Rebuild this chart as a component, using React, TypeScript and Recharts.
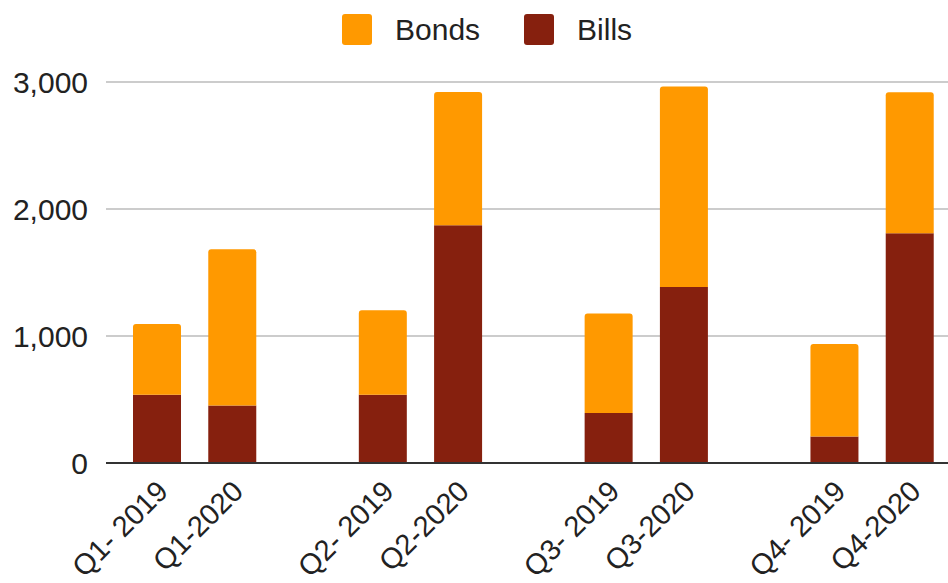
import { BarChart, Bar, XAxis, YAxis, CartesianGrid } from "recharts";

// categories, with blank slots between the quarter pairs
const categories = [
  "Q1- 2019",
  "Q1-2020",
  "",
  "Q2- 2019",
  "Q2-2020",
  "",
  "Q3- 2019",
  "Q3-2020",
  "",
  "Q4- 2019",
  "Q4-2020",
];
const bills = [537, 452, null, 537, 1872, null, 393, 1385, null, 209, 1809];
const bonds = [557, 1231, null, 665, 1050, null, 785, 1579, null, 728, 1110];
const yTicks = [0, 1000, 2000, 3000];

const BONDS_COLOR = "#ff9900";
const BILLS_COLOR = "#86200e";
const FONT = "Arial, 'Liberation Sans', sans-serif";

const data = categories.map((name, i) => ({
  name,
  bills: bills[i],
  bonds: bonds[i],
}));

function XTick({ x, y, payload }: any) {
  if (!payload.value) return null;
  return (
    <g transform={`translate(${x + 13},${y + 30})`}>
      <text
        x={0}
        y={0}
        textAnchor="end"
        transform="rotate(-45)"
        fontSize={29}
        fontFamily={FONT}
        fill="#222"
      >
        {payload.value}
      </text>
    </g>
  );
}

const legendItems = [
  { label: "Bonds", color: BONDS_COLOR },
  { label: "Bills", color: BILLS_COLOR },
];

export default function App() {
  return (
    <div style={{ position: "relative", width: 948, height: 583, background: "#fff", overflow: "hidden" }}>
      <style>{`body{margin:0}`}</style>
      <div
        style={{
          position: "absolute",
          top: 14,
          left: 342,
          display: "flex",
          alignItems: "center",
          fontFamily: FONT,
          fontSize: 30,
          color: "#222",
        }}
      >
        {legendItems.map((item, i) => (
          <div
            key={item.label}
            style={{ display: "flex", alignItems: "center", marginRight: i === 0 ? 44 : 0 }}
          >
            <span
              style={{
                width: 30,
                height: 31,
                borderRadius: 3,
                background: item.color,
                display: "inline-block",
                marginRight: 23,
              }}
            />
            <span style={{ lineHeight: "31px" }}>{item.label}</span>
          </div>
        ))}
      </div>
      <BarChart
        width={948}
        height={583}
        data={data}
        margin={{ top: 82, right: 0, bottom: 0, left: 0 }}
        barSize={48}
      >
        <CartesianGrid vertical={false} stroke="#cccccc" strokeWidth={2} />
        <XAxis
          dataKey="name"
          height={120}
          interval={0}
          tickLine={false}
          tickSize={0}
          tickMargin={0}
          padding={{ left: 13, right: 1 }}
          axisLine={{ stroke: "#333333", strokeWidth: 2 }}
          tick={<XTick />}
        />
        <YAxis
          width={106}
          domain={[0, 3000]}
          ticks={yTicks}
          axisLine={false}
          tickLine={false}
          tickSize={0}
          tickMargin={18}
          tickFormatter={(v: number) => v.toLocaleString("en-US")}
          tick={{ fontSize: 30, fill: "#222", fontFamily: FONT }}
        />
        <Bar dataKey="bills" stackId="a" fill={BILLS_COLOR} isAnimationActive={false} />
        <Bar
          dataKey="bonds"
          stackId="a"
          fill={BONDS_COLOR}
          radius={[3, 3, 0, 0]}
          isAnimationActive={false}
        />
      </BarChart>
    </div>
  );
}
